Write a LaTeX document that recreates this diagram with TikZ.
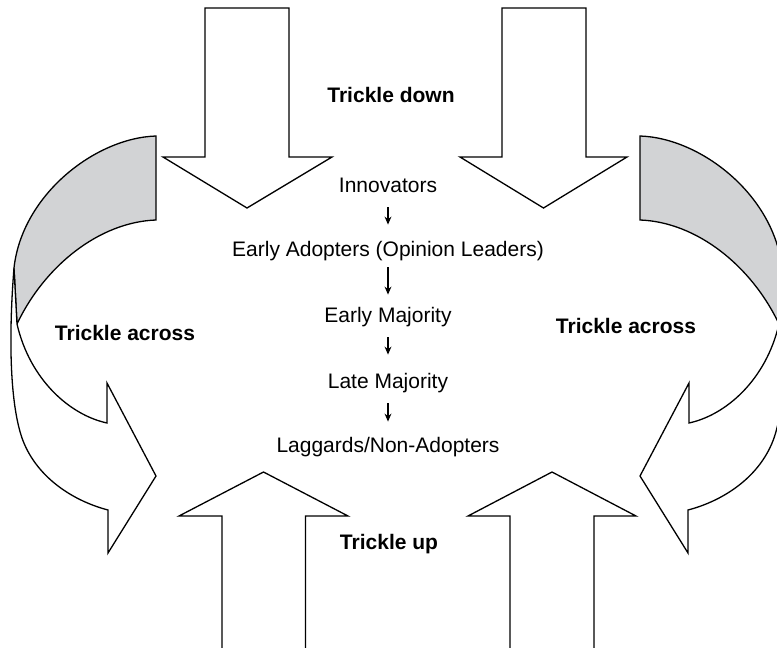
\documentclass[tikz,border=0pt]{standalone}
\usepackage{fontspec}
\setmainfont{Liberation Sans}
\usetikzlibrary{arrows.meta}
\definecolor{ribbon}{RGB}{210,211,213}
\tikzset{
  outline/.style={draw=black, line width=0.65pt, line join=miter},
  label/.style={font=\fontsize{10.5}{12.6}\selectfont, inner sep=0pt, anchor=base, text height=8pt, text depth=2.5pt},
  boldlabel/.style={label, font=\fontsize{10.5}{12.6}\selectfont\bfseries},
  smallarrow/.style={draw=black, line width=0.6pt, -{Stealth[length=4pt,width=3.4pt]}}
}
\begin{document}
\begin{tikzpicture}[x=0.5pt, y=-0.5pt]
\useasboundingbox (0,0) rectangle (777,648);
\clip (0,0) rectangle (777,648);

% Trickle down arrows
\draw[outline, fill=white] (205,8) -- (205,157) -- (163,157) -- (247,208) -- (332,157) -- (289,157) -- (289,8) -- cycle;
\draw[outline, fill=white] (502,8) -- (502,157) -- (460,157) -- (543.5,208) -- (627,157) -- (586,157) -- (586,8) -- cycle;

% Trickle up arrows
\draw[outline, fill=white] (222,660) -- (222,516) -- (179,516) -- (263.5,472) -- (348,516) -- (305.5,516) -- (305.5,660);
\draw[outline, fill=white] (510,660) -- (510,516) -- (468,516) -- (552,472) -- (636,516) -- (594,516) -- (594,660);

% Trickle across, left ribbon
\draw[outline, fill=ribbon] (156,136) -- (156,220) .. controls (100,222) and (45,265) .. (17,324) -- (14,268) .. controls (22,195) and (95,138) .. (156,136) -- cycle;
\draw[outline, fill=white] (14,268) .. controls (9,330) and (9,400) .. (22,438) .. controls (35,475) and (70,500) .. (108,510) -- (108,553) -- (156,476) -- (107,383) -- (107,423) .. controls (70,415) and (30,380) .. (17,324) -- cycle;

% Trickle across, right ribbon (mirror image)
\begin{scope}[shift={(796,0)}, xscale=-1]
\draw[outline, fill=ribbon] (156,136) -- (156,220) .. controls (100,222) and (45,265) .. (17,324) -- (14,268) .. controls (22,195) and (95,138) .. (156,136) -- cycle;
\draw[outline, fill=white] (14,268) .. controls (9,330) and (9,400) .. (22,438) .. controls (35,475) and (70,500) .. (108,510) -- (108,553) -- (156,476) -- (107,383) -- (107,423) .. controls (70,415) and (30,380) .. (17,324) -- cycle;
\end{scope}

% Labels
\node[boldlabel] (down) at (391,102) {Trickle down};
\node[boldlabel] (up) at (389,549) {Trickle up};
\node[boldlabel] (acrossL) at (125,340) {Trickle across};
\node[boldlabel] (acrossR) at (626,333) {Trickle across};

\node[label] (inn) at (388,192) {Innovators};
\node[label] (ea) at (388,256) {Early Adopters (Opinion Leaders)};
\node[label] (em) at (388,322) {Early Majority};
\node[label] (lm) at (388,388) {Late Majority};
\node[label] (lag) at (388,452) {Laggards/Non-Adopters};

\draw[smallarrow, shorten <=5pt, shorten >=7.5pt] (inn) -- (ea);
\draw[smallarrow, shorten <=3pt, shorten >=5.5pt] (ea) -- (em);
\draw[smallarrow, shorten <=5pt, shorten >=8.5pt] (em) -- (lm);
\draw[smallarrow, shorten <=5pt, shorten >=7pt] (lm) -- (lag);
\end{tikzpicture}
\end{document}
